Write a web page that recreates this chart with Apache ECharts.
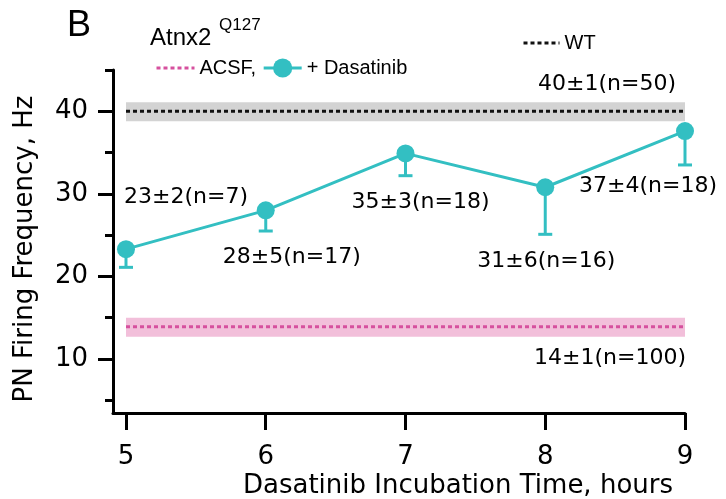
<!DOCTYPE html>
<html>
<head>
<meta charset="utf-8">
<script src="https://cdn.jsdelivr.net/npm/echarts@6/dist/echarts.min.js"></script>
<style>
    html, body { margin: 0; padding: 0; background: #fff; }
    #chart { width: 726px; height: 499px; }
</style>
</head>
<body>
<div id="chart"></div>
<script>
// values
const hours = [5, 6, 7, 8, 9];
const dasatinibMean = [23.3, 28.0, 34.9, 30.8, 37.6];
const dasatinibErrLow = [2.2, 2.5, 2.7, 5.7, 4.1];
const dasatinibText = ['23±2(n=7)', '28±5(n=17)', '35±3(n=18)', '31±6(n=16)', '37±4(n=18)'];

const wtMean = 40;
const wtBand = [38.8, 41.1];
const wtText = '40±1(n=50)';

const acsfMean = 13.9;
const acsfBand = [12.7, 15.0];
const acsfText = '14±1(n=100)';

const xTicks = [5, 6, 7, 8, 9];
const yMajor = [10, 20, 30, 40];
const yMinor = [5, 15, 25, 35, 45];

// label placement (pixels from the point)
const labelOffsets = [[60, -52], [26, 47], [15, 49], [1, 74], [-37, 55]];

const TEAL = '#33bfc2';
const PINK = '#d6509e';
const LABEL_FONT = 'DejaVu Sans';
const LEGEND_FONT = 'Liberation Sans';

window.onload = function () {
    const myChart = echarts.init(document.getElementById('chart'));
    const bandStart = hours[0];
    const bandEnd = hours[hours.length - 1];

    const labelStyle = {
        color: '#000',
        fontSize: 22,
        fontFamily: LABEL_FONT
    };

    const option = {
        animation: false,
        backgroundColor: '#fff',
        grid: { left: 113, right: 41, top: 70, bottom: 86 },
        legend: [
            {
                left: 150,
                top: 53,
                itemWidth: 38,
                itemHeight: 24,
                itemGap: 6,
                lineStyle: { width: 3 },
                data: [
                    { name: 'ACSF,', itemStyle: { opacity: 0 } },
                    '+ Dasatinib'
                ],
                textStyle: { color: '#000', fontSize: 20, fontFamily: LEGEND_FONT }
            },
            {
                left: 517,
                top: 28,
                itemWidth: 36,
                itemHeight: 24,
                lineStyle: { width: 3 },
                data: [{ name: 'WT', itemStyle: { opacity: 0 } }],
                textStyle: { color: '#000', fontSize: 20, fontFamily: LEGEND_FONT }
            }
        ],
        xAxis: {
            type: 'value',
            min: 4.907,
            max: 9,
            splitLine: { show: false },
            axisLine: { show: true, onZero: false, lineStyle: { color: '#000', width: 3 } },
            axisTick: { show: true, customValues: xTicks, length: 17, lineStyle: { color: '#000', width: 3 } },
            axisLabel: {
                customValues: xTicks,
                margin: 44,
                verticalAlign: 'middle',
                color: '#000',
                fontSize: 26,
                fontFamily: LABEL_FONT
            }
        },
        yAxis: [
            {
                type: 'value',
                min: 3.46,
                max: 45,
                splitLine: { show: false },
                axisLine: { show: true, onZero: false, lineStyle: { color: '#000', width: 3 } },
                axisTick: { show: true, customValues: yMajor, length: 15, lineStyle: { color: '#000', width: 3 } },
                axisLabel: {
                    customValues: yMajor,
                    margin: 25,
                    color: '#000',
                    fontSize: 26,
                    fontFamily: LABEL_FONT
                }
            },
            {
                type: 'value',
                min: 3.46,
                max: 45,
                position: 'left',
                splitLine: { show: false },
                axisLine: { show: false },
                axisTick: { show: true, customValues: yMinor, length: 8, lineStyle: { color: '#000', width: 3 } },
                axisLabel: { show: false }
            }
        ],
        graphic: [
            { type: 'text', left: 67, top: 8, style: { text: 'B', fill: '#000', font: '36px "Liberation Sans"' } },
            { type: 'text', x: 150, y: 38, style: { text: 'Atnx2', fill: '#000', font: '24px "Liberation Sans"', verticalAlign: 'middle' } },
            { type: 'text', x: 219, y: 25, style: { text: 'Q127', fill: '#000', font: '17px "Liberation Sans"', verticalAlign: 'middle' } },
            {
                type: 'text', x: 25, y: 249, rotation: Math.PI / 2,
                style: { text: 'PN Firing Frequency, Hz', fill: '#000', font: '26px "DejaVu Sans"', align: 'center', verticalAlign: 'middle' }
            },
            {
                type: 'text', x: 458, y: 486,
                style: { text: 'Dasatinib Incubation Time, hours', fill: '#000', font: '26px "DejaVu Sans"', align: 'center', verticalAlign: 'middle' }
            }
        ],
        series: [
            {
                name: 'WT',
                type: 'line',
                symbol: 'none',
                z: 3,
                data: [[bandStart, wtMean], [bandEnd, wtMean]],
                lineStyle: { color: '#111', width: 3, type: [4, 3] },
                itemStyle: { color: '#111' },
                markArea: {
                    silent: true,
                    itemStyle: { color: '#d3d3d3' },
                    data: [[{ coord: [bandStart, wtBand[0]] }, { coord: [bandEnd, wtBand[1]] }]]
                },
                markPoint: {
                    symbol: 'circle',
                    symbolSize: 0,
                    data: [{
                        coord: [bandEnd, wtMean],
                        label: Object.assign({ show: true, formatter: wtText, position: 'inside', offset: [-78, -27] }, labelStyle)
                    }]
                }
            },
            {
                name: 'ACSF,',
                type: 'line',
                symbol: 'none',
                z: 3,
                data: [[bandStart, acsfMean], [bandEnd, acsfMean]],
                lineStyle: { color: PINK, width: 3, type: [4, 3] },
                itemStyle: { color: PINK },
                markArea: {
                    silent: true,
                    itemStyle: { color: '#f2bfda' },
                    data: [[{ coord: [bandStart, acsfBand[0]] }, { coord: [bandEnd, acsfBand[1]] }]]
                },
                markPoint: {
                    symbol: 'circle',
                    symbolSize: 0,
                    data: [{
                        coord: [bandEnd, acsfMean],
                        label: Object.assign({ show: true, formatter: acsfText, position: 'inside', offset: [-75, 31] }, labelStyle)
                    }]
                }
            },
            {
                name: 'errors',
                type: 'custom',
                z: 4,
                data: hours.map(function (h, i) {
                    return [h, dasatinibMean[i], dasatinibMean[i] - dasatinibErrLow[i]];
                }),
                renderItem: function (params, api) {
                    const top = api.coord([api.value(0), api.value(1)]);
                    const bottom = api.coord([api.value(0), api.value(2)]);
                    const st = { stroke: TEAL, lineWidth: 3 };
                    return {
                        type: 'group',
                        children: [
                            { type: 'line', shape: { x1: top[0], y1: top[1], x2: bottom[0], y2: bottom[1] }, style: st },
                            { type: 'line', shape: { x1: bottom[0] - 7, y1: bottom[1], x2: bottom[0] + 7, y2: bottom[1] }, style: st }
                        ]
                    };
                }
            },
            {
                name: '+ Dasatinib',
                type: 'line',
                z: 5,
                symbol: 'circle',
                symbolSize: 18,
                lineStyle: { color: TEAL, width: 3 },
                itemStyle: { color: TEAL },
                data: hours.map(function (h, i) {
                    return {
                        value: [h, dasatinibMean[i]],
                        label: {
                            show: true,
                            formatter: dasatinibText[i],
                            position: 'inside',
                            offset: labelOffsets[i],
                            align: 'center',
                            verticalAlign: 'middle',
                            color: '#000',
                            fontSize: 22,
                            fontFamily: LABEL_FONT
                        }
                    };
                })
            }
        ]
    };

    option && myChart.setOption(option);
}
</script>
</body>
</html>
